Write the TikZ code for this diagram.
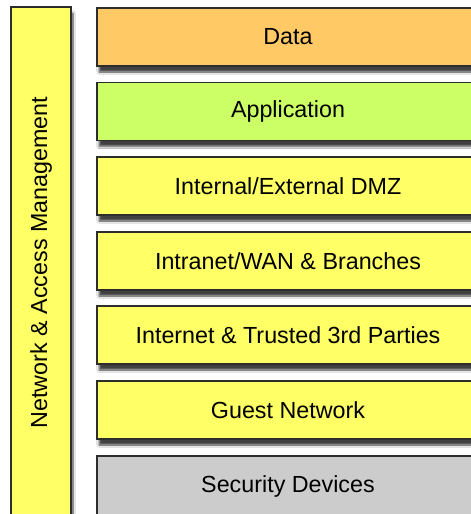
\documentclass[tikz,border=0pt]{standalone}
\usepackage{fontspec}
\setmainfont{Liberation Sans}
\usepackage{tikz}
\usetikzlibrary{positioning, shadows.blur}
\definecolor{LayOrange}{RGB}{255,201,102}
\definecolor{LayGreen}{RGB}{204,255,102}
\definecolor{LayYellow}{RGB}{255,255,102}
\definecolor{LayGray}{RGB}{204,204,204}
\definecolor{LayEdge}{RGB}{45,45,45}

\begin{document}
\begin{tikzpicture}[x=1pt, y=-1pt,
          layer/.style={rectangle, draw=LayEdge, line width=1.3pt,
                        minimum width=382pt, minimum height=58pt,
                        font=\fontsize{23.3}{27}\selectfont,
                        blur shadow={shadow xshift=2pt, shadow yshift=-6pt,
                                     shadow blur steps=6, shadow opacity=75}},
          side/.style={layer, minimum width=60pt, minimum height=511pt}
        ]
        \clip (0,0) rectangle (471,514);
        \fill[white] (0,0) rectangle (471,514);

        % Side bar
        \node[side, fill=LayYellow] (nam) at (41, 262.5) {};
        \node[rotate=90, font=\fontsize{23.3}{27}\selectfont] (namtxt)
              at (nam.center) {Network \& Access Management};

        % Stacked layers
        \foreach \n/\y/\c/\t in {data/37/LayOrange/Data,
                                 app/111.5/LayGreen/Application,
                                 dmz/186/LayYellow/Internal{/}External DMZ,
                                 intranet/261/LayYellow/Intranet{/}WAN \& Branches,
                                 internet/335/LayYellow/Internet \& Trusted 3rd Parties,
                                 guest/410/LayYellow/Guest Network} {
          \node[layer, fill=\c] (\n) at (288, \y) {\t};
        }

        % Bottom layer runs off the page
        \node[layer, fill=LayGray, minimum height=70pt, text depth=0pt]
              (secdev) at (288, 491) {};
        \node[font=\fontsize{23.3}{27}\selectfont] (sectxt) at (288, 486)
              {Security Devices};
\end{tikzpicture}
\end{document}
